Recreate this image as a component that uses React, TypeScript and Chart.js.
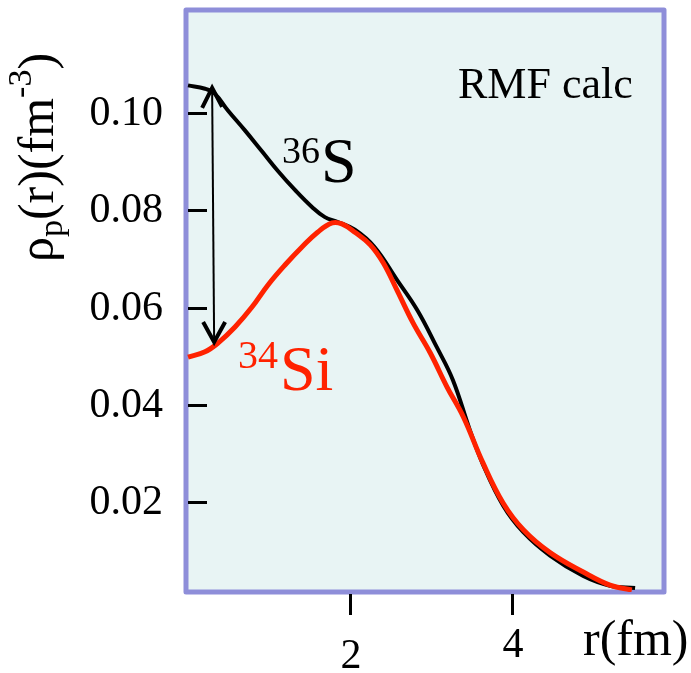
import React, { useEffect, useRef } from "react";
import { Chart, registerables } from "chart.js";

Chart.register(...registerables);

// 36S proton density (RMF)
const rS36 = [0, 0.21, 0.33, 0.49, 0.70, 0.91, 1.11, 1.32, 1.53, 1.69, 1.85, 2.06, 2.30, 2.58, 2.83, 3.07, 3.27, 3.48, 3.64, 3.89, 4.14, 4.47, 4.88, 5.21, 5.52];
const rhoS36 = [0.1057, 0.1050, 0.1040, 0.1006, 0.0965, 0.0922, 0.0881, 0.0842, 0.0807, 0.0786, 0.0776, 0.0760, 0.0725, 0.0657, 0.0595, 0.0519, 0.0451, 0.0348, 0.0278, 0.0193, 0.0138, 0.0090, 0.0048, 0.0028, 0.0023];

// 34Si proton density (RMF)
const rSi34 = [0, 0.21, 0.37, 0.58, 0.79, 0.99, 1.20, 1.41, 1.60, 1.78, 1.90, 2.06, 2.25, 2.41, 2.58, 2.78, 2.99, 3.20, 3.40, 3.64, 3.89, 4.14, 4.47, 4.88, 5.21, 5.48];
const rhoSi34 = [0.0498, 0.0509, 0.0527, 0.0560, 0.0601, 0.0647, 0.0688, 0.0725, 0.0755, 0.0774, 0.0772, 0.0755, 0.0729, 0.0692, 0.0636, 0.0568, 0.0507, 0.0436, 0.0375, 0.0281, 0.0198, 0.0143, 0.0096, 0.0056, 0.0029, 0.0019];

const yTicks = [0.02, 0.04, 0.06, 0.08, 0.10];
const yTickLabels = ["0.02", "0.04", "0.06", "0.08", "0.10"];
const xTicks = [2, 4];
const xTickLabels = ["2", "4"];

// depletion arrow (r, top rho, bottom rho)
const arrowR = 0.31;
const arrowTop = 0.1052;
const arrowBottom = 0.0529;

const SERIF = '"Liberation Serif", "DejaVu Serif", serif';
const RED = "#ff2200";

const decoPlugin = {
  id: "deco",
  beforeDatasetsDraw(chart: any) {
    const { ctx, chartArea: a, scales } = chart;
    const x = scales.x;
    const y = scales.y;
    ctx.save();
    ctx.fillStyle = "#e8f4f4";
    ctx.fillRect(a.left, a.top, a.right - a.left, a.bottom - a.top);
    ctx.strokeStyle = "#8e8ed9";
    ctx.lineWidth = 5;
    ctx.lineJoin = "round";
    ctx.strokeRect(a.left, a.top, a.right - a.left, a.bottom - a.top);

    ctx.strokeStyle = "#000";
    ctx.lineWidth = 3;
    ctx.lineCap = "butt";
    yTicks.forEach((v) => {
      const py = Math.round(y.getPixelForValue(v)) + 0.5;
      ctx.beginPath();
      ctx.moveTo(a.left + 2, py);
      ctx.lineTo(a.left + 21, py);
      ctx.stroke();
    });
    xTicks.forEach((v) => {
      const px = Math.round(x.getPixelForValue(v)) + 0.5;
      ctx.beginPath();
      ctx.moveTo(px, a.bottom + 2);
      ctx.lineTo(px, a.bottom + 23);
      ctx.stroke();
    });

    ctx.fillStyle = "#000";
    ctx.font = `42px ${SERIF}`;
    ctx.textAlign = "right";
    ctx.textBaseline = "alphabetic";
    yTicks.forEach((v, i) => {
      const py = y.getPixelForValue(v);
      ctx.fillText(yTickLabels[i], 163, py + 12);
    });
    ctx.textAlign = "center";
    const xBase = [668, 657];
    xTicks.forEach((v, i) => {
      const px = x.getPixelForValue(v);
      ctx.fillText(xTickLabels[i], px + 1, xBase[i]);
    });

    ctx.textAlign = "left";
    ctx.font = `50px ${SERIF}`;
    ctx.fillText("r(fm)", 583, 655);

    ctx.save();
    ctx.translate(53, 262);
    ctx.rotate(-Math.PI / 2);
    ctx.textAlign = "left";
    let cx = 0;
    const part = (t: string, size: number, dy: number) => {
      ctx.font = `${size}px ${SERIF}`;
      ctx.fillText(t, cx, dy);
      cx += ctx.measureText(t).width;
    };
    part("ρ", 50, 0);
    part("p", 34, 9);
    part("(r)(fm", 50, 0);
    part("-3", 34, -22);
    part(")", 50, 0);
    ctx.restore();

    ctx.restore();
  },
  afterDatasetsDraw(chart: any) {
    const { ctx, scales } = chart;
    const x = scales.x;
    const y = scales.y;
    ctx.save();
    const ax = x.getPixelForValue(arrowR);
    const ty = y.getPixelForValue(arrowTop);
    const by = y.getPixelForValue(arrowBottom);
    ctx.strokeStyle = "#000";
    ctx.lineWidth = 2;
    ctx.beginPath();
    ctx.moveTo(ax - 1, ty + 2);
    ctx.lineTo(ax + 1, by - 2);
    ctx.stroke();
    ctx.lineWidth = 4;
    ctx.lineCap = "butt";
    ctx.lineJoin = "miter";
    ctx.beginPath();
    ctx.moveTo(ax - 11, ty + 20);
    ctx.lineTo(ax - 1, ty);
    ctx.lineTo(ax + 9, ty + 19);
    ctx.stroke();
    ctx.beginPath();
    ctx.moveTo(ax - 10, by - 20);
    ctx.lineTo(ax + 1, by);
    ctx.lineTo(ax + 12, by - 20);
    ctx.stroke();

    ctx.fillStyle = "#000";
    ctx.textAlign = "left";
    ctx.textBaseline = "alphabetic";
    ctx.font = `44px ${SERIF}`;
    ctx.fillText("RMF calc", 458, 98);
    ctx.font = `38px ${SERIF}`;
    ctx.fillText("36", 282, 163);
    ctx.font = `64px ${SERIF}`;
    ctx.fillText("S", 321, 182);

    ctx.fillStyle = RED;
    ctx.font = `40px ${SERIF}`;
    ctx.fillText("34", 238, 368);
    ctx.font = `64px ${SERIF}`;
    ctx.fillText("Si", 280, 390);
    ctx.restore();
  },
};

export default function App() {
  const ref = useRef<HTMLCanvasElement | null>(null);
  useEffect(() => {
    if (!ref.current) return;
    const chart = new Chart(ref.current, {
      type: "line",
      data: {
        datasets: [
          {
            label: "34Si",
            data: rSi34.map((r, i) => ({ x: r, y: rhoSi34[i] })),
            borderColor: RED,
            borderWidth: 5,
            pointRadius: 0,
            tension: 0.4,
            fill: false,
          },
          {
            label: "36S",
            data: rS36.map((r, i) => ({ x: r, y: rhoS36[i] })),
            borderColor: "#000000",
            borderWidth: 4,
            pointRadius: 0,
            tension: 0.4,
            fill: false,
          },
        ],
      },
      options: {
        responsive: false,
        animation: false,
        events: [],
        layout: { padding: { left: 186, top: 10, right: 27, bottom: 81 } },
        plugins: { legend: { display: false }, tooltip: { enabled: false } },
        scales: {
          x: { type: "linear", min: -0.025, max: 5.877, display: false },
          y: { type: "linear", min: 0.0015, max: 0.1212, display: false },
        },
      },
      plugins: [decoPlugin],
    });
    return () => {
      chart.destroy();
    };
  }, []);
  return (
    <div style={{ position: "absolute", left: 0, top: 0, width: 691, height: 673, background: "#fff" }}>
      <canvas ref={ref} width={691} height={673} style={{ display: "block" }} />
    </div>
  );
}
